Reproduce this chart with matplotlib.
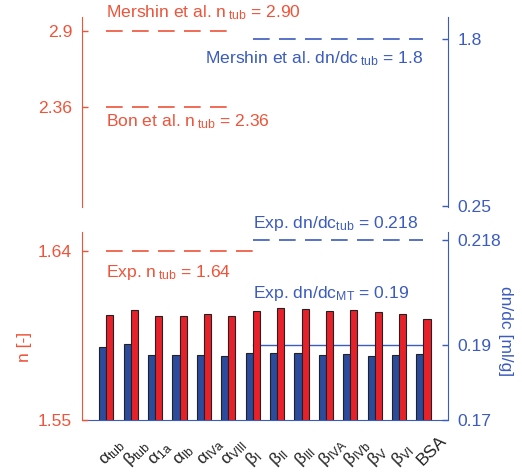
import numpy as np
import matplotlib
matplotlib.use("Agg")
import matplotlib.pyplot as plt
from matplotlib import transforms

plt.rcParams["font.family"] = ["Liberation Sans", "DejaVu Sans"]
plt.rcParams["mathtext.fontset"] = "custom"
plt.rcParams["mathtext.rm"] = "Liberation Sans"
plt.rcParams["mathtext.it"] = "Liberation Sans:italic"
plt.rcParams["mathtext.bf"] = "Liberation Sans:bold"

# ------------------------------------------------------------
# data
# ------------------------------------------------------------
labels = [
    r"α$_{\mathrm{tub}}$", r"β$_{\mathrm{tub}}$", r"α$_{\mathrm{1a}}$",
    r"α$_{\mathrm{Ib}}$", r"α$_{\mathrm{IVa}}$", r"α$_{\mathrm{VIII}}$",
    r"β$_{\mathrm{I}}$", r"β$_{\mathrm{II}}$", r"β$_{\mathrm{III}}$",
    r"β$_{\mathrm{IVA}}$", r"β$_{\mathrm{IVb}}$", r"β$_{\mathrm{V}}$",
    r"β$_{\mathrm{VI}}$", "BSA",
]
n_vals = [1.6059, 1.6087, 1.6055, 1.6054, 1.6066, 1.6055, 1.6080,
          1.6095, 1.6089, 1.6082, 1.6086, 1.6073, 1.6063, 1.6038]
dndc_vals = [0.1893, 0.1902, 0.1873, 0.1873, 0.1874, 0.1869, 0.1877,
             0.1879, 0.1877, 0.1874, 0.1876, 0.1871, 0.1873, 0.1876]

n_tub_mershin = 2.90
n_tub_bon = 2.36
n_tub_exp = 1.64
dndc_tub_mershin = 1.8
dndc_tub_exp = 0.218
dndc_mt_exp = 0.19

# colours
RED_TXT = "#EF5339"
BLUE_TXT = "#3B5BBE"
RED_BAR = "#E8202A"
BLUE_BAR = "#2C4B9D"

FS = 12.6
DPI = 100
dash = (0, (10, 5.6))

fig = plt.figure(figsize=(5.22, 4.76), dpi=DPI)

ax_top = fig.add_axes([0.157, 0.565, 0.701, 0.399])
ax_top_r = ax_top.twinx()
ax_bot = fig.add_axes([0.157, 0.1176, 0.701, 0.395])
ax_bot_r = ax_bot.twinx()

# red (left) content goes over the blue (right) content in the lower panel
ax_bot.set_zorder(ax_bot_r.get_zorder() + 1)
ax_bot.patch.set_visible(False)

for a in (ax_top, ax_top_r, ax_bot, ax_bot_r):
    a.set_xlim(0, 15)
    for s in a.spines.values():
        s.set_visible(False)
    a.tick_params(direction="in", length=4, width=1, pad=7, labelsize=FS)
    a.set_xticks([])

ax_top.set_ylim(1.64, 3.0)
ax_top_r.set_ylim(0.24, 2.0)
ax_bot.set_ylim(1.55, 1.65)
ax_bot_r.set_ylim(0.17, 0.22)

for a in (ax_top, ax_bot):
    a.spines["left"].set_visible(True)
    a.spines["left"].set_color(RED_TXT)
    a.tick_params(axis="y", colors=RED_TXT)
for a in (ax_top_r, ax_bot_r):
    a.spines["right"].set_visible(True)
    a.spines["right"].set_color(BLUE_TXT)
    a.tick_params(axis="y", colors=BLUE_TXT)
ax_bot_r.spines["bottom"].set_visible(True)
ax_bot_r.spines["bottom"].set_color(BLUE_TXT)

ax_top.set_yticks([n_tub_bon, n_tub_mershin], ["2.36", "2.9"])
ax_top_r.set_yticks([0.25, dndc_tub_mershin], ["0.25", "1.8"])
ax_bot.set_yticks([1.55, n_tub_exp], ["1.55", "1.64"])
ax_bot_r.set_yticks([0.17, dndc_mt_exp, dndc_tub_exp], ["0.17", "0.19", "0.218"])

# ------------------------------------------------------------
# bars
# ------------------------------------------------------------
x = np.arange(1, len(labels) + 1)
w = 0.29
ax_bot.bar(x + w / 2, n_vals, w, color=RED_BAR, edgecolor="#222222",
           linewidth=0.8, zorder=3)
ax_bot_r.bar(x - w / 2, dndc_vals, w, color=BLUE_BAR, edgecolor="#222222",
             linewidth=0.8, zorder=3)

# category labels at 45 deg: the angle comes from a rotation transform
# around each label's anchor point (in pixels)
lab_trans = transforms.blended_transform_factory(ax_bot.transData, ax_bot.transAxes)
for xi, lab in zip(x, labels):
    px, py = lab_trans.transform((xi - 0.05, -0.245))
    rot = transforms.Affine2D().rotate_deg_around(px, py, 45)
    ax_bot.text(px, py, lab, transform=rot, transform_rotates_text=True,
                rotation_mode="anchor", ha="left", va="baseline",
                fontsize=FS, color="#222222", clip_on=False)

# ------------------------------------------------------------
# reference lines + annotations
# ------------------------------------------------------------
ax_top.plot([1, 6], [n_tub_mershin] * 2, color=RED_TXT, lw=1.2, ls=dash)
ax_top.plot([1, 6], [n_tub_bon] * 2, color=RED_TXT, lw=1.2, ls=dash)
ax_top_r.plot([7, 14], [dndc_tub_mershin] * 2, color=BLUE_TXT, lw=1.2, ls=dash)
ax_bot.plot([1, 7], [n_tub_exp] * 2, color=RED_TXT, lw=1.2, ls=dash)
ax_bot_r.plot([7, 14], [dndc_tub_exp] * 2, color=BLUE_TXT, lw=1.2, ls=dash)
ax_bot_r.plot([7, 14], [dndc_mt_exp] * 2, color=BLUE_TXT, lw=1.0, zorder=1)

ax_top.text(1, 3.0, r"Mershin et al. n$\,_{\mathrm{tub}}$ = %.2f" % n_tub_mershin,
            color=RED_TXT, fontsize=FS, va="baseline", clip_on=False)
ax_top.text(1, 2.22, r"Bon et al. n$\,_{\mathrm{tub}}$ = %.2f" % n_tub_bon,
            color=RED_TXT, fontsize=FS, va="baseline")
ax_top_r.text(14, 1.571, r"Mershin et al. dn/dc$\,_{\mathrm{tub}}$ = %.1f" % dndc_tub_mershin,
              color=BLUE_TXT, fontsize=FS, va="baseline", ha="right")
ax_bot_r.text(7, 0.2211, r"Exp. dn/dc$_{\mathrm{tub}}$ = %.3f" % dndc_tub_exp,
              color=BLUE_TXT, fontsize=FS, va="baseline", clip_on=False)
ax_bot.text(1, 1.6262, r"Exp. n$\,_{\mathrm{tub}}$ = %.2f" % n_tub_exp,
            color=RED_TXT, fontsize=FS, va="baseline")
ax_bot_r.text(7, 0.2024, r"Exp. dn/dc$_{\mathrm{MT}}$ = %.2f" % dndc_mt_exp,
              color=BLUE_TXT, fontsize=FS, va="baseline")

fig.text(0.046, 1 - 347 / 476, "n [-]", rotation=90, color=RED_TXT,
         fontsize=FS, ha="center", va="center")
fig.text(505 / 522, 1 - 331 / 476, "dn/dc [ml/g]", rotation=270,
         color=BLUE_TXT, fontsize=FS, ha="center", va="center")

fig.savefig("out.png", dpi=DPI)
